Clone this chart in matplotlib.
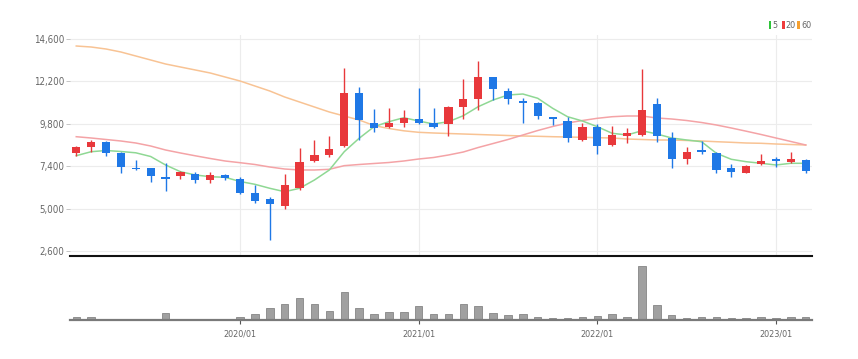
import matplotlib
matplotlib.use("Agg")
import matplotlib.pyplot as plt
from matplotlib.patches import Rectangle
from matplotlib import font_manager as fm
import numpy as np

# ---------------- data ----------------
months = [f"{2019 + (m // 12)}/{(m % 12) + 1:02d}" for m in range(1, 51)]  # 2019/02 .. 2023/03

opens = [8130, 8470, 8790, 8160, 7320, 7280, 6800, 6850, 6940, 6620,
         6900, 6690, 5870, 5520, 5160, 6180, 7710, 8030, 8560, 11530,
         9860, 9640, 9860, 10070, 9830, 9770, 10730, 11190, 12430, 11670,
         11070, 10990, 10180, 9960, 8880, 9640, 8600, 9110, 9170, 10900,
         9000, 7790, 8320, 8160, 7280, 7030, 7520, 7790, 7640, 7750]
highs = [8560, 8880, 8820, 8200, 7750, 7300, 7560, 7100, 7050, 7090,
         6960, 6770, 6340, 5670, 6940, 8450, 8880, 9130, 12940, 11900,
         10640, 10680, 10580, 11810, 10680, 10800, 12340, 13350, 12460, 11810,
         11240, 11030, 10200, 10200, 9830, 9770, 9690, 9550, 12880, 11240,
         9350, 8470, 8830, 8220, 7520, 7470, 8070, 7940, 8220, 7790]
lows = [7950, 8220, 7980, 7000, 7200, 6490, 6000, 6680, 6430, 6470,
        6620, 5830, 5320, 3220, 4980, 6050, 7650, 7940, 8500, 8880,
        9320, 9580, 9640, 9770, 9580, 9110, 10070, 10580, 11150, 10920,
        9830, 10050, 9730, 8790, 8830, 8070, 8560, 8700, 9110, 8790,
        7280, 7520, 8070, 7030, 6800, 7000, 7490, 7340, 7560, 7000]
closes = [8500, 8750, 8130, 7370, 7240, 6850, 6690, 7050, 6620, 6900,
          6720, 5900, 5430, 5260, 6340, 7620, 8030, 8360, 11530, 10020,
          9550, 9830, 10150, 9830, 9640, 10770, 11190, 12430, 11770, 11190,
          10990, 10260, 10050, 9010, 9640, 8540, 9170, 9260, 10580, 9110,
          7810, 8220, 8220, 7190, 7050, 7410, 7710, 7710, 7790, 7130]

ma5 = [7994, 8220, 8288, 8232, 8158, 7948, 7468, 7088, 6902, 6805,
       6771, 6534, 6375, 6149, 5956, 6149, 6619, 7185, 8220, 8979,
       9635, 9918, 10145, 9958, 9788, 9918, 10258, 10768, 11147, 11430,
       11486, 11243, 10677, 10201, 9958, 9635, 9262, 9166, 9409, 9222,
       8996, 8883, 8786, 8130, 7790, 7654, 7564, 7468, 7564, 7564]
ma20 = [9069, 8996, 8911, 8826, 8713, 8543, 8317, 8147, 7988, 7836,
        7694, 7598, 7496, 7354, 7241, 7185, 7185, 7224, 7430, 7496,
        7553, 7609, 7694, 7807, 7892, 8034, 8203, 8458, 8684, 8911,
        9166, 9420, 9647, 9845, 9986, 10111, 10201, 10241, 10241, 10128,
        10071, 9986, 9873, 9732, 9562, 9381, 9194, 8996, 8798, 8600]
ma60 = [14203, 14146, 14033, 13863, 13637, 13411, 13184, 13014, 12845, 12675,
        12448, 12222, 11939, 11656, 11316, 11033, 10750, 10467, 10241, 10015,
        9700, 9534, 9403, 9318, 9279, 9250, 9222, 9194, 9166, 9137,
        9109, 9092, 9069, 9052, 9035, 9013, 8996, 8939, 8911, 8883,
        8883, 8855, 8826, 8786, 8752, 8713, 8696, 8656, 8628, 8600]

volume = [23, 27, 10, 10, 10, 10, 70, 10, 10, 10,
          10, 27, 57, 120, 153, 220, 153, 87, 273, 120,
          57, 77, 77, 137, 60, 60, 160, 137, 70, 43,
          57, 27, 20, 20, 27, 37, 60, 27, 533, 143,
          43, 20, 27, 23, 13, 13, 23, 13, 23, 23]

price_ticks = [2600, 5000, 7400, 9800, 12200, 14600]
year_labels = ["2020/01", "2021/01", "2022/01", "2023/01"]
legend_labels = ["5", "20", "60"]

# ---------------- style ----------------
UP = "#e8383b"
DOWN = "#1f78e6"
C_MA5 = "#8fd894"
C_MA20 = "#f4a3a6"
C_MA60 = "#f8c394"
LEG_COLORS = ["#2fc43a", "#ee3b3b", "#f5a030"]
GRID = "#ececec"
TXT = "#666666"

names = {f.name for f in fm.fontManager.ttflist}
if 'Liberation Sans Narrow' in names:
    FONT = dict(family=['Liberation Sans Narrow', 'DejaVu Sans'])
else:
    FONT = dict(family=['DejaVu Sans'], stretch='condensed')
plt.rcParams['font.family'] = FONT['family']

W, H = 858, 359
fig = plt.figure(figsize=(W / 100, H / 100), dpi=100)
fig.patch.set_facecolor("white")

x = np.arange(len(months))
xl = (-0.42, len(months) - 1 + 0.42)

def v_of_px(py):
    return 2600 + (251 - py) * 56.6

ax = fig.add_axes([70 / W, (H - 256) / H, (812 - 70) / W, (256 - 35) / H])
axv = fig.add_axes([70 / W, (H - 319.5) / H, (812 - 70) / W, (319.5 - 260) / H])

# price panel
ax.set_xlim(*xl)
ax.set_ylim(v_of_px(256), v_of_px(35))
for t in price_ticks:
    ax.axhline(t, color=GRID, lw=0.8, zorder=0)
year_idx = [months.index(l) for l in year_labels]
for xi in year_idx:
    ax.axvline(xi, color=GRID, lw=0.8, zorder=0)

ax.plot(x, ma60, color=C_MA60, lw=1.1, zorder=2)
ax.plot(x, ma20, color=C_MA20, lw=1.1, zorder=2)
ax.plot(x, ma5, color=C_MA5, lw=1.1, zorder=2)

o = np.array(opens); c = np.array(closes)
cols = [UP if cc >= oo else DOWN for oo, cc in zip(o, c)]
ax.vlines(x, lows, highs, colors=cols, lw=1.0, zorder=3)
ax.bar(x, np.maximum(np.abs(c - o), 60), bottom=np.minimum(o, c), width=0.55,
       color=cols, linewidth=0, zorder=4)

ax.set_yticks(price_ticks)
ax.set_yticklabels([f"{t:,}" for t in price_ticks], **FONT)
ax.tick_params(axis='y', length=3, width=0.6, color="#bbbbbb", labelsize=7, labelcolor=TXT, pad=1)
ax.set_xticks(year_idx)
ax.tick_params(axis='x', length=0, labelbottom=False)
for s in ["top", "right", "left"]:
    ax.spines[s].set_visible(False)
ax.spines["bottom"].set_color("#111111")
ax.spines["bottom"].set_linewidth(1.5)

# volume panel
axv.set_xlim(*xl)
axv.set_ylim(0, max(volume) * 59.5 / 53.3)
axv.bar(x, volume, width=0.5, color="#a0a0a0", edgecolor="#858585", linewidth=0.6, zorder=2)
axv.set_yticks([])
axv.set_xticks(year_idx)
axv.set_xticklabels(year_labels, **FONT)
axv.tick_params(axis='x', length=3, width=0.8, color="#555555", labelsize=6.5, labelcolor=TXT, pad=4)
for s in ["top", "right", "left"]:
    axv.spines[s].set_visible(False)
axv.spines["bottom"].set_color("#7a7a7a")
axv.spines["bottom"].set_linewidth(1.6)

# legend
lx = [768.5, 781.7, 797.3]
for px, col, lab in zip(lx, LEG_COLORS, legend_labels):
    fig.add_artist(Rectangle((px / W, (H - 28.5) / H), 2.8 / W, 7 / H,
                             transform=fig.transFigure, color=col, lw=0))
    fig.text((px + 3.8) / W, (H - 25) / H, lab, fontsize=6.5, color=TXT,
             va="center", ha="left", **FONT)

fig.savefig("out.png", dpi=100, facecolor="white")
